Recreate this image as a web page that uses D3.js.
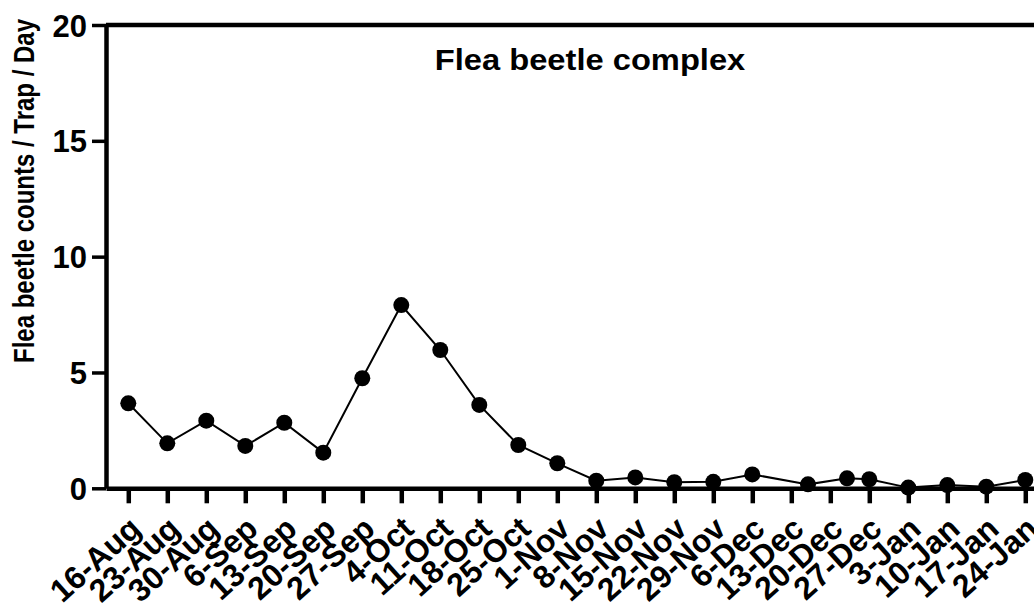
<!DOCTYPE html>
<html>
  <head>
    <meta charset="utf-8">
    <title>Flea beetle complex</title>
    <script src="https://cdn.jsdelivr.net/npm/d3@7"></script>
  </head>

  <style>
    body {
      margin: 0;
      background: #ffffff;
    }
    text {
      font-family: "Liberation Sans", Arial, sans-serif;
      font-weight: bold;
    }
  </style>

  <body>
    <script>

      // sampling dates and counts
      var sampleDates = ["2020-08-16", "2020-08-23", "2020-08-30", "2020-09-06", "2020-09-13",
        "2020-09-20", "2020-09-27", "2020-10-04", "2020-10-11", "2020-10-18", "2020-10-25",
        "2020-11-01", "2020-11-08", "2020-11-15", "2020-11-22", "2020-11-29", "2020-12-06",
        "2020-12-16", "2020-12-23", "2020-12-27", "2021-01-03", "2021-01-10", "2021-01-17",
        "2021-01-24"];
      var counts = [3.67, 1.94, 2.92, 1.83, 2.83, 1.54, 4.75, 7.91, 5.97, 3.60, 1.87,
        1.08, 0.33, 0.47, 0.26, 0.28, 0.60, 0.17, 0.43, 0.39, 0.03, 0.14, 0.07, 0.36];

      // weekly tick marks
      var tickDates = ["2020-08-16", "2020-08-23", "2020-08-30", "2020-09-06", "2020-09-13",
        "2020-09-20", "2020-09-27", "2020-10-04", "2020-10-11", "2020-10-18", "2020-10-25",
        "2020-11-01", "2020-11-08", "2020-11-15", "2020-11-22", "2020-11-29", "2020-12-06",
        "2020-12-13", "2020-12-20", "2020-12-27", "2021-01-03", "2021-01-10", "2021-01-17",
        "2021-01-24"];
      var tickLabels = ["16-Aug", "23-Aug", "30-Aug", "6-Sep", "13-Sep", "20-Sep", "27-Sep",
        "4-Oct", "11-Oct", "18-Oct", "25-Oct", "1-Nov", "8-Nov", "15-Nov", "22-Nov", "29-Nov",
        "6-Dec", "13-Dec", "20-Dec", "27-Dec", "3-Jan", "10-Jan", "17-Jan", "24-Jan"];
      var yTicks = [0, 5, 10, 15, 20];

      var width = 1034,
        height = 607;

      var parse = d3.utcParse("%Y-%m-%d");

      var svg = d3.select("body")
        .append("svg")
        .attr("width", width)
        .attr("height", height);

      svg.append("rect")
        .attr("width", width)
        .attr("height", height)
        .attr("fill", "#fff");

      var left = 106,
        pxPerDay = 39 / 7;

      var x = d3.scaleUtc()
        .domain([parse("2020-08-12"), parse("2021-01-28")])
        .range([left, left + 169 * pxPerDay]);

      var y = d3.scaleLinear()
        .domain([0, 20])
        .range([488.3, 25]);

      // top frame line
      svg.append("line")
        .attr("x1", x.range()[0])
        .attr("x2", x.range()[1])
        .attr("y1", y(20))
        .attr("y2", y(20))
        .attr("stroke", "#000")
        .attr("stroke-width", 4.5);

      // y axis
      var yAxis = svg.append("g")
        .attr("transform", "translate(" + left + ",0)")
        .call(d3.axisLeft(y).tickValues(yTicks).tickSize(14).tickSizeOuter(0).tickPadding(5));

      yAxis.select(".domain").attr("stroke-width", 4.5);
      yAxis.selectAll(".tick line").attr("stroke-width", 3.5);
      yAxis.selectAll(".tick text")
        .attr("font-size", 31)
        .attr("font-family", "Liberation Sans, Arial, sans-serif")
        .attr("font-weight", "bold")
        .attr("fill", "#000")
        .attr("dy", "0.36em");

      // x axis
      var xAxis = svg.append("g")
        .attr("transform", "translate(0," + y(0) + ")")
        .call(d3.axisBottom(x)
          .tickValues(tickDates.map(parse))
          .tickFormat((d, i) => tickLabels[i])
          .tickSize(15)
          .tickSizeOuter(0));

      xAxis.select(".domain").attr("stroke-width", 4.5);
      xAxis.selectAll(".tick line").attr("stroke-width", 4.5);
      xAxis.selectAll(".tick text")
        .attr("font-size", 32)
        .attr("font-family", "Liberation Sans, Arial, sans-serif")
        .attr("font-weight", "bold")
        .attr("fill", "#000")
        .attr("text-anchor", "end")
        .attr("x", 0)
        .attr("y", 0)
        .attr("dy", 0)
        .attr("transform", "translate(14,43) rotate(-42)");

      // series
      var line = d3.line()
        .x((d, i) => x(parse(sampleDates[i])))
        .y(d => y(d));

      svg.append("path")
        .datum(counts)
        .attr("d", line)
        .attr("fill", "none")
        .attr("stroke", "#000")
        .attr("stroke-width", 2);

      svg.selectAll(".pt")
        .data(counts)
        .enter()
        .append("circle")
        .attr("class", "pt")
        .attr("cx", (d, i) => x(parse(sampleDates[i])))
        .attr("cy", d => y(d))
        .attr("r", 8)
        .attr("fill", "#000");

      // title
      svg.append("text")
        .attr("transform", "translate(590,70) scale(1.09,1)")
        .attr("text-anchor", "middle")
        .attr("font-size", 30)
        .text("Flea beetle complex");

      // y label
      svg.append("text")
        .attr("transform", "translate(34,191) scale(1.25,1) rotate(-90)")
        .attr("text-anchor", "middle")
        .attr("font-size", 24)
        .text("Flea beetle counts / Trap / Day");

    </script>
  </body>
</html>
